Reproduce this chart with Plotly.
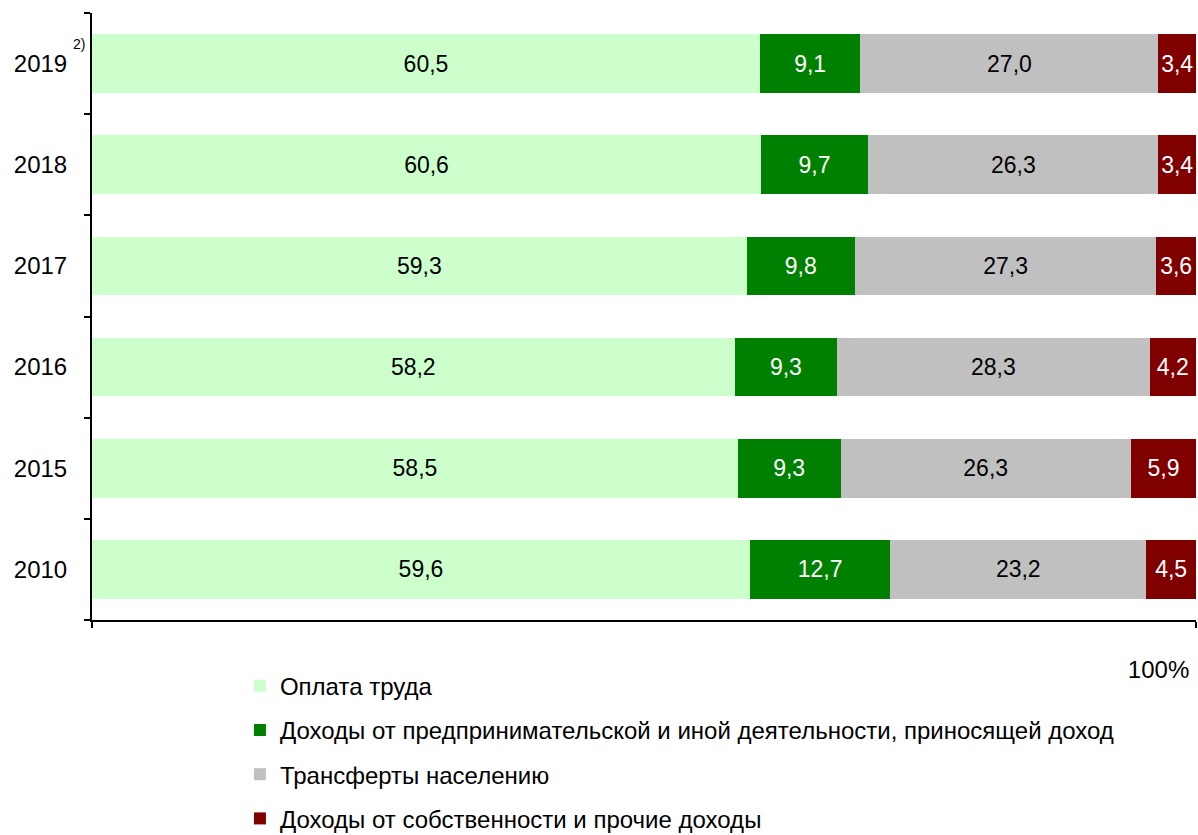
import plotly.graph_objects as go

years = ["2010", "2015", "2016", "2017", "2018", "2019"]
wages = [59.6, 58.5, 58.2, 59.3, 60.6, 60.5]
business = [12.7, 9.3, 9.3, 9.8, 9.7, 9.1]
transfers = [23.2, 26.3, 28.3, 27.3, 26.3, 27.0]
property_inc = [4.5, 5.9, 4.2, 3.6, 3.4, 3.4]

series_names = [
    "Оплата труда",
    "Доходы от предпринимательской и иной деятельности, приносящей доход",
    "Трансферты населению",
    "Доходы от собственности и прочие доходы",
]
series_values = [wages, business, transfers, property_inc]
colors = ["#CCFFCC", "#008000", "#C0C0C0", "#800000"]
text_colors = ["#000000", "#FFFFFF", "#000000", "#FFFFFF"]

FONT = "Liberation Sans, Arial, sans-serif"

def fmt(v):
    return f"{v:.1f}".replace(".", ",")

fig = go.Figure()
for i, (name, vals) in enumerate(zip(series_names, series_values)):
    fig.add_trace(go.Bar(
        y=years, x=vals, name=name, orientation="h",
        marker=dict(color=colors[i], line=dict(width=0)),
        text=[fmt(v) for v in vals],
        textposition="inside", insidetextanchor="middle",
        textangle=0, constraintext="none",
        textfont=dict(size=23, color=text_colors[i], family=FONT),
        legendgroup=f"g{i}",
        hoverinfo="x+y+name",
    ))

fig.update_layout(
    width=1198, height=835,
    barmode="stack", bargap=0.42,
    plot_bgcolor="white", paper_bgcolor="white",
    margin=dict(l=92, r=2, t=13, b=215, autoexpand=False),
    font=dict(family=FONT, size=24, color="#000000"),
    legend=dict(
        x=0.134, y=-0.072, xanchor="left", yanchor="top",
        orientation="v", traceorder="grouped", tracegroupgap=10,
        font=dict(size=24, family=FONT, color="#000000"),
        bgcolor="rgba(0,0,0,0)",
    ),
    showlegend=True,
)

fig.update_yaxes(
    type="category", categoryorder="array", categoryarray=years,
    range=[-0.5, 5.5],
    showline=True, linecolor="#000000", linewidth=2,
    ticks="outside", ticklen=6, tickwidth=1.5, tickcolor="#000000",
    tickson="boundaries",
    tickfont=dict(size=24, family=FONT, color="#000000"),
    ticklabelstandoff=18,
    showgrid=False, zeroline=False,
)

fig.update_xaxes(
    range=[0, 100],
    showline=True, linecolor="#000000", linewidth=2,
    ticks="outside", ticklen=6, tickwidth=1.5, tickcolor="#000000",
    tickmode="array", tickvals=[0, 100], ticktext=["", "100%"],
    ticklabelposition="outside left",
    ticklabelstandoff=27, ticklabelshift=-5,
    tickfont=dict(size=24, family=FONT, color="#000000"),
    showgrid=False, zeroline=False,
)

fig.add_annotation(
    x=-0.0118, xref="paper", xanchor="center",
    y=5.19, yref="y", yanchor="middle",
    text="2)", showarrow=False,
    font=dict(size=14, family=FONT, color="#000000"),
)

fig.write_html("out.html")
